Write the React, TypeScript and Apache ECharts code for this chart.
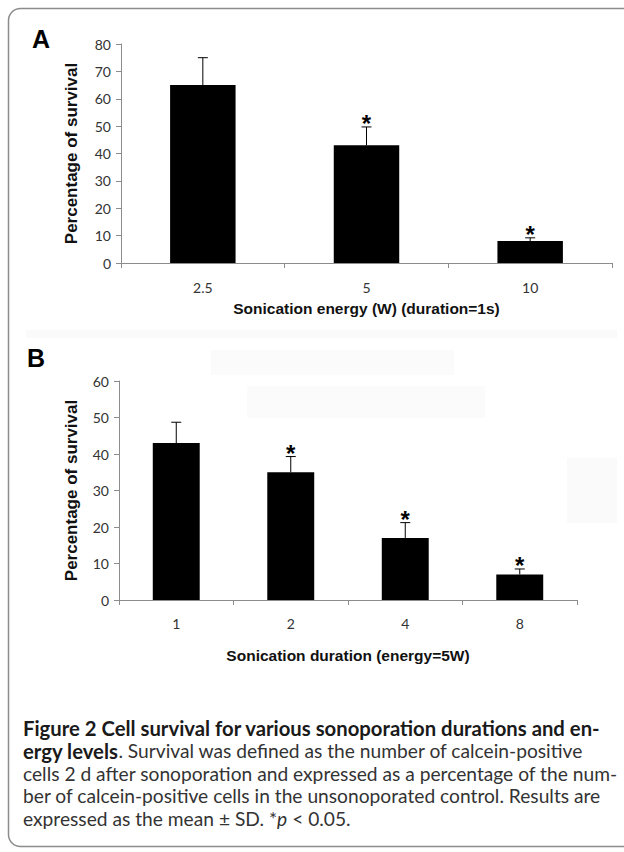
import React, { useEffect, useRef } from "react";
import * as echarts from "echarts";

const catsA = ["2.5", "5", "10"];
const meanA = [65, 43, 8];
const sdA = [10, 6.7, 1.2];
const sigA = [0, 1, 1];

const catsB = ["1", "2", "4", "8"];
const meanB = [43, 35, 17, 7];
const sdB = [5.7, 4.3, 4.2, 1.5];
const sigB = [0, 1, 1, 1];

const yName = "Percentage of survival";
const xNameA = "Sonication energy (W) (duration=1s)";
const xNameB = "Sonication duration (energy=5W)";

const captionLines = [
  "{b|Figure 2 Cell survival for various sonoporation durations and en-}",
  "{b|ergy levels}{r|. Survival was defined as the number of calcein-positive}",
  "{r|cells 2 d after sonoporation and expressed as a percentage of the num-}",
  "{r|ber of calcein-positive cells in the unsonoporated control. Results are}",
  "{r|expressed as the mean ± SD. *}{i|p}{r| < 0.05.}",
];

const tickFont = "Lato, 'Open Sans', sans-serif";
const boldFont = "'Liberation Sans', Arial, sans-serif";
const capFont = "Lato, 'Open Sans', sans-serif";

function errRender(params: any, api: any) {
  const i = api.value(0);
  const m = api.value(1);
  const sd = api.value(2);
  const sig = api.value(3);
  const base = api.coord([i, m]);
  const top = api.coord([i, m + sd]);
  const children: any[] = [
    { type: "line", shape: { x1: base[0], y1: base[1], x2: top[0], y2: top[1] }, style: { stroke: "#000", lineWidth: 1 } },
    { type: "line", shape: { x1: top[0] - 5, y1: top[1], x2: top[0] + 5, y2: top[1] }, style: { stroke: "#000", lineWidth: 1 } },
  ];
  if (sig) {
    children.push({
      type: "text",
      x: top[0],
      y: top[1] - 3,
      style: { text: "*", fontSize: 24, fontWeight: "bold", fontFamily: boldFont, fill: "#000", align: "center", verticalAlign: "middle" },
    });
  }
  return { type: "group", children };
}

function xAxisCfg(grid: number, data: string[], name: string, gap: number, margin: number) {
  return {
    type: "category",
    gridIndex: grid,
    data,
    name,
    nameLocation: "middle",
    nameGap: gap,
    nameTextStyle: { fontFamily: boldFont, fontWeight: "bold", fontSize: 15.5, color: "#111" },
    axisLine: { lineStyle: { color: "#8c8c8c", width: 1 } },
    axisTick: { show: true, length: 5, lineStyle: { color: "#8c8c8c" } },
    axisLabel: { margin, color: "#333", fontSize: 14, fontFamily: tickFont },
  };
}

function yAxisCfg(grid: number, max: number, gap: number) {
  return {
    type: "value",
    gridIndex: grid,
    min: 0,
    max,
    interval: 10,
    name: yName,
    nameLocation: "middle",
    nameGap: gap,
    nameRotate: 90,
    nameTextStyle: { fontFamily: boldFont, fontWeight: "bold", fontSize: 17, color: "#111" },
    splitLine: { show: false },
    axisLine: { show: true, lineStyle: { color: "#8c8c8c", width: 1 } },
    axisTick: { show: true, length: 5, lineStyle: { color: "#8c8c8c" } },
    axisLabel: { margin: 10, color: "#333", fontSize: 14, fontFamily: tickFont },
  };
}

export default function App() {
  const ref = useRef<HTMLDivElement>(null);
  useEffect(() => {
    if (!ref.current) return;
    const chart = echarts.init(ref.current, undefined, { renderer: "svg" });
    const capLH = 22;
    const option: any = {
      animation: false,
      backgroundColor: "#fff",
      grid: [
        { left: 121, top: 44, width: 491, height: 219 },
        { left: 119, top: 381, width: 458, height: 219 },
      ],
      xAxis: [xAxisCfg(0, catsA, xNameA, 37, 17), xAxisCfg(1, catsB, xNameB, 47, 16)],
      yAxis: [yAxisCfg(0, 80, 41), yAxisCfg(1, 60, 39)],
      series: [
        { type: "bar", xAxisIndex: 0, yAxisIndex: 0, data: meanA, barWidth: "40%", itemStyle: { color: "#000" }, z: 2 },
        {
          type: "custom",
          xAxisIndex: 0,
          yAxisIndex: 0,
          data: catsA.map((_, i) => [i, meanA[i], sdA[i], sigA[i]]),
          renderItem: errRender,
          z: 3,
        },
        { type: "bar", xAxisIndex: 1, yAxisIndex: 1, data: meanB, barWidth: "41%", itemStyle: { color: "#000" }, z: 2 },
        {
          type: "custom",
          xAxisIndex: 1,
          yAxisIndex: 1,
          data: catsB.map((_, i) => [i, meanB[i], sdB[i], sigB[i]]),
          renderItem: errRender,
          z: 3,
        },
      ],
      graphic: [
        { type: "rect", silent: true, z: -10, shape: { x: 26, y: 330, width: 591, height: 8 }, style: { fill: "#fafafa" } },
        { type: "rect", silent: true, z: -10, shape: { x: 211, y: 350, width: 243, height: 25 }, style: { fill: "#fbfbfb" } },
        { type: "rect", silent: true, z: -10, shape: { x: 247, y: 386, width: 238, height: 32 }, style: { fill: "#fbfbfb" } },
        { type: "rect", silent: true, z: -10, shape: { x: 567, y: 458, width: 50, height: 65 }, style: { fill: "#fafafa" } },
        {
          type: "rect",
          silent: true,
          z: 10,
          shape: { x: 8.5, y: 8.5, width: 650, height: 838, r: 12 },
          style: { fill: "none", stroke: "#8c8c8c", lineWidth: 1.5 },
        },
        { type: "text", x: 32, y: 39, style: { text: "A", fontSize: 25, fontWeight: "bold", fontFamily: boldFont, fill: "#000", verticalAlign: "middle" } },
        { type: "text", x: 27, y: 358, style: { text: "B", fontSize: 25, fontWeight: "bold", fontFamily: boldFont, fill: "#000", verticalAlign: "middle" } },
        ...captionLines.map((t, k) => ({
          type: "text",
          x: 23,
          y: 728 + k * 22.5,
          style: {
            text: t,
            verticalAlign: "middle",
            fontFamily: capFont,
            fontSize: 19.2,
            lineHeight: capLH,
            fill: "#333",
            rich: {
              b: { fontFamily: capFont, fontSize: 20.3, lineHeight: capLH, fontWeight: "bold", fill: "#1a1a1a" },
              r: { fontFamily: capFont, fontSize: 19.2, lineHeight: capLH, fill: "#333" },
              i: { fontFamily: capFont, fontSize: 19.2, lineHeight: capLH, fontStyle: "italic", fill: "#333" },
            },
          },
        })),
      ],
    };
    chart.setOption(option);
    return () => chart.dispose();
  }, []);
  return <div ref={ref} style={{ position: "absolute", left: 0, top: 0, width: 624, height: 852 }} />;
}
